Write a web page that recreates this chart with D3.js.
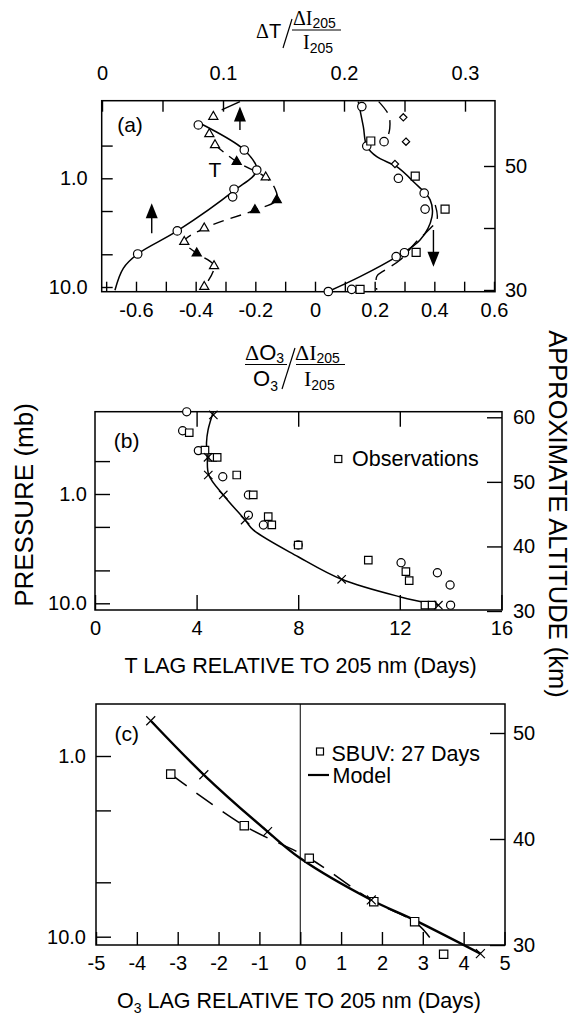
<!DOCTYPE html>
<html>
<head>
<meta charset="utf-8">
<script src="https://cdn.jsdelivr.net/npm/d3@7"></script>
<style>
  body { margin: 0; background: #fff; }
</style>
</head>
<body>
<svg id="fig" width="571" height="1017"></svg>
<script>
// ---- panel (a): sensitivities vs pressure (mb) ----
// temperature response, read on the top axis
const tempCircles = [[0.0796, 0.323], [0.1176, 0.549], [0.1279, 0.839], [0.1091, 1.26], [0.108, 1.48], [0.0622, 3.05], [0.0295, 4.97]];
const tempFit = [[0.078, 0.30], [0.1176, 0.549], [0.1279, 0.839], [0.1091, 1.30], [0.0622, 3.05], [0.0295, 4.97], [0.0176, 6.73], [0.0107, 10.7]];
const tempTriangles = [[0.092, 0.271], [0.0887, 0.391], [0.0934, 0.494], [0.1353, 0.979], [0.0845, 2.88], [0.068, 3.83], [0.0926, 6.41], [0.0845, 9.94]];
const tempTrianglesFilled = [[0.1113, 0.704], [0.1444, 1.58], [0.1264, 1.96], [0.0783, 4.90]];
const tempDashed = [[0.0934, 0.494], [0.1113, 0.704], [0.1353, 0.979], [0.143, 1.25], [0.1444, 1.58], [0.1264, 1.96], [0.0845, 2.88], [0.068, 3.83], [0.0783, 4.90], [0.0926, 6.41], [0.0845, 9.94]];
const tempTopPiece = [[0.0989, 0.235], [0.114, 0.197]];
const tempArrows = [[0.114, 0.36, 0.219], [0.0411, 3.21, 1.70]]; // value, tail p, tip p
// ozone response, read on the bottom axis
const o3Circles = [[0.157, 0.219], [0.1735, 0.505], [0.2315, 0.46], [0.2795, 1.0], [0.366, 1.37], [0.369, 1.92], [0.2997, 4.84], [0.272, 5.26], [0.123, 10.5], [0.0446, 11.0]];
const o3Squares = [[0.187, 0.454], [0.336, 0.953], [0.436, 1.92], [0.339, 4.80], [0.151, 10.5]];
const o3Diamonds = [[0.296, 0.275], [0.305, 0.46], [0.268, 0.738]];
const o3Fit = [[0.145, 0.197], [0.162, 0.335], [0.1735, 0.505], [0.207, 0.633], [0.274, 0.782], [0.330, 1.075], [0.386, 1.58], [0.392, 2.26], [0.352, 3.70], [0.274, 5.26], [0.151, 8.04], [0.0446, 11.0]];
const o3DashTop = [[0.2135, 0.197], [0.247, 0.262], [0.2506, 0.347], [0.2406, 0.444]];
const o3DashLow = [[0.403, 1.76], [0.409, 2.4], [0.375, 3.1], [0.341, 3.8], [0.285, 5.64], [0.235, 6.98], [0.207, 8.0], [0.207, 10.6]];
const o3Arrows = [[0.397, 2.99, 6.52]];
const aTopTicks = [0, 0.05, 0.1, 0.15, 0.2, 0.25, 0.3];
const aBottomTicks = d3.range(-7, 7).map(i => i / 10);
const pressureTicks = [0.5, 1, 2, 5, 10];

// ---- panel (b): T lag (days) vs pressure ----
const bCircles = [[3.61, 0.177], [3.45, 0.264], [4.07, 0.401], [5.03, 0.695], [6.04, 1.02], [6.04, 1.56], [6.63, 1.92], [8.0, 2.93], [12.05, 4.25], [13.48, 5.25], [13.98, 6.80], [14.0, 10.4]];
const bSquares = [[3.71, 0.275], [4.33, 0.396], [4.63, 0.462], [4.81, 0.462], [5.58, 0.670], [6.23, 1.02], [6.82, 1.61], [6.96, 1.92], [8.0, 2.93], [10.76, 4.02], [12.24, 5.14], [12.37, 6.21], [12.99, 10.4], [13.27, 10.4]];
const bModelX = [[4.66, 0.189], [4.45, 0.462], [4.46, 0.670], [5.05, 1.02], [5.91, 1.73], [9.71, 6.03], [13.52, 10.4]];
const bModel = [[4.66, 0.177], [4.45, 0.26], [4.39, 0.34], [4.42, 0.46], [4.48, 0.67], [5.05, 1.02], [5.91, 1.73], [6.23, 2.13], [8.0, 3.75], [9.71, 6.03], [11.99, 8.7], [13.52, 10.4]];
const bDayTicks = [0, 4, 8, 12, 16];

// ---- panel (c): O3 lag (days) vs pressure ----
const cSquares = [[-3.17, 1.26], [-1.37, 2.43], [0.22, 3.68], [1.80, 6.4], [2.80, 8.26], [3.51, 12.5]];
const cModelX = [[-3.66, 0.638], [-2.36, 1.27], [-0.80, 2.62], [1.74, 6.26], [4.41, 12.4]];
const cModel = [[-3.66, 0.638], [-2.36, 1.27], [-0.80, 2.62], [0, 3.68], [1.74, 6.26], [2.80, 8.09], [4.41, 12.4]];
const cDashed = [[-3.17, 1.26], [-1.37, 2.43], [0.22, 3.68], [1.80, 6.4], [2.80, 8.26], [3.17, 10.1]];
const cDayTicks = d3.range(-5, 6);

const sans = '"Liberation Sans", Arial, Helvetica, sans-serif';
const serif = '"Liberation Serif", "Times New Roman", serif';

const svg = d3.select('#fig');
svg.append('rect').attr('width', 571).attr('height', 1017).attr('fill', '#fff');

const xMark = {
  draw(ctx, size)
  {
    const r = Math.sqrt(size) / 2;
    ctx.moveTo(-r, -r); ctx.lineTo(r, r);
    ctx.moveTo(r, -r); ctx.lineTo(-r, r);
  }
};

function frame(x0, x1, y0, y1)
{
  svg.append('rect').attr('x', x0).attr('y', y0).attr('width', x1 - x0).attr('height', y1 - y0)
    .attr('fill', 'none').attr('stroke', '#000').attr('stroke-width', 1.5);
}

function axis(gen, tx, ty)
{
  const a = svg.append('g').attr('transform', `translate(${ tx },${ ty })`).call(gen);
  a.select('.domain').remove();
  a.selectAll('line').attr('stroke', '#000').attr('stroke-width', 1.4);
  a.selectAll('text').attr('font-size', 20).attr('font-family', sans).attr('fill', '#000');
  return a;
}

function marks(data, x, y, type, size, fill)
{
  svg.append('g').selectAll('path').data(data).join('path')
    .attr('transform', d => `translate(${ x(d[0]) },${ y(d[1]) })`)
    .attr('d', d3.symbol(type, size))
    .attr('fill', fill).attr('stroke', '#000').attr('stroke-width', 1.2);
}

function curve(data, x, y, width, dash)
{
  svg.append('path').datum(data)
    .attr('d', d3.line().x(d => x(d[0])).y(d => y(d[1])).curve(d3.curveCatmullRom.alpha(0.5)))
    .attr('fill', 'none').attr('stroke', '#000').attr('stroke-width', width)
    .attr('stroke-dasharray', dash || null);
}

function arrows(data, x, y)
{
  data.forEach(([v, from, to]) =>
  {
    const ax = x(v), y0 = y(from), y1 = y(to);
    const dir = Math.sign(y1 - y0);
    svg.append('line').attr('x1', ax).attr('x2', ax).attr('y1', y0).attr('y2', y1 - dir * 12)
      .attr('stroke', '#000').attr('stroke-width', 1.4);
    svg.append('path').attr('d', `M${ ax },${ y1 }L${ ax - 6 },${ y1 - dir * 15 }L${ ax + 6 },${ y1 - dir * 15 }Z`)
      .attr('fill', '#000');
  });
}

function label(x, y, str, size, anchor)
{
  return svg.append('text').attr('x', x).attr('y', y).attr('font-family', sans)
    .attr('font-size', size || 21).attr('text-anchor', anchor || 'middle').text(str);
}

const dec = d => (d === 1 ? '1.0' : d === 10 ? '10.0' : '');
const fmtSigned = d => (Math.abs(d) < 1e-9 ? '0' : (d < 0 ? '-' : '') + Math.abs(d).toFixed(1));

// ================= panel (a) =================
const aX0 = 101.7, aX1 = 495, aY0 = 100.7, aY1 = 291.7;
const aTop = d3.scaleLinear().domain([0, 0.3]).range([102, 465]);
const aBot = d3.scaleLinear().domain([-0.6, 0.6]).range([136, 494]);
const aY = d3.scaleLog().domain([1, 10]).range([178.3, 287]);
const aAlt = d3.scaleLinear().domain([30, 50]).range([290, 166]);

axis(d3.axisTop(aTop).tickValues(aTopTicks).tickSizeInner(-11).tickSizeOuter(0).tickPadding(21)
  .tickFormat(d => (Math.round(d * 100) % 10 === 0 ? (d === 0 ? '0' : d.toFixed(1)) : '')), 0, aY0);
axis(d3.axisBottom(aBot).tickValues(aBottomTicks).tickSizeInner(-10).tickSizeOuter(0).tickPadding(11)
  .tickFormat(d => (Math.round(d * 10) % 2 === 0 && d > -0.65 ? fmtSigned(d) : '')), 0, aY1);
axis(d3.axisLeft(aY).tickValues(pressureTicks).tickSizeInner(-11).tickSizeOuter(0).tickPadding(14)
  .tickFormat(dec), aX0, 0);
axis(d3.axisRight(aAlt).tickValues([30, 40, 50]).tickSizeInner(-11).tickSizeOuter(0).tickPadding(10)
  .tickFormat(d => (d === 40 ? '' : d)), aX1, 0);
frame(aX0, aX1, aY0, aY1);

curve(tempFit, aTop, aY, 1.5);
curve(tempDashed, aTop, aY, 1.4, '11,7');
curve(tempTopPiece, aTop, aY, 1.4);
marks(tempCircles, aTop, aY, d3.symbolCircle, 56, '#fff');
marks(tempTriangles, aTop, aY, d3.symbolTriangle, 36, '#fff');
marks(tempTrianglesFilled, aTop, aY, d3.symbolTriangle, 36, '#000');
arrows(tempArrows, aTop, aY);

curve(o3Fit, aBot, aY, 1.5);
curve(o3DashTop, aBot, aY, 1.4, '14,8');
curve(o3DashLow, aBot, aY, 1.4, '14,8');
marks(o3Circles, aBot, aY, d3.symbolCircle, 56, '#fff');
marks(o3Squares, aBot, aY, d3.symbolSquare, 64, '#fff');
marks(o3Diamonds, aBot, aY, d3.symbolDiamond2, 34, '#fff');
arrows(o3Arrows, aBot, aY);

label(130, 132, '(a)');
label(215, 177, 'T');

// top title: ΔT / (ΔI205 / I205)
{
  const t1 = svg.append('text').attr('x', 256).attr('y', 38).attr('font-size', 20);
  t1.append('tspan').attr('font-family', serif).text('Δ');
  t1.append('tspan').attr('font-family', sans).text('T');
  svg.append('line').attr('x1', 283).attr('y1', 48).attr('x2', 292).attr('y2', 19).attr('stroke', '#000').attr('stroke-width', 1.2);
  const n = svg.append('text').attr('x', 293).attr('y', 25).attr('font-size', 20);
  n.append('tspan').attr('font-family', serif).text('ΔI');
  n.append('tspan').attr('font-family', sans).attr('font-size', 14).attr('dy', 2.5).text('205');
  svg.append('line').attr('x1', 292).attr('x2', 341).attr('y1', 30).attr('y2', 30).attr('stroke', '#000').attr('stroke-width', 1.2);
  const dd = svg.append('text').attr('x', 303).attr('y', 48.5).attr('font-size', 20);
  dd.append('tspan').attr('font-family', serif).text('I');
  dd.append('tspan').attr('font-family', sans).attr('font-size', 14).attr('dy', 4).text('205');
}
// bottom title: (ΔO3/O3) / (ΔI205/I205)
{
  const n1 = svg.append('text').attr('x', 245).attr('y', 360).attr('font-size', 22);
  n1.append('tspan').attr('font-family', serif).text('Δ');
  n1.append('tspan').attr('font-family', sans).text('O');
  n1.append('tspan').attr('font-family', sans).attr('font-size', 14).attr('dy', 3).text('3');
  svg.append('line').attr('x1', 245).attr('x2', 287).attr('y1', 364.5).attr('y2', 364.5).attr('stroke', '#000').attr('stroke-width', 1.2);
  const d1 = svg.append('text').attr('x', 253).attr('y', 386).attr('font-size', 22);
  d1.append('tspan').attr('font-family', sans).text('O');
  d1.append('tspan').attr('font-family', sans).attr('font-size', 14).attr('dy', 5).text('3');
  svg.append('line').attr('x1', 282).attr('y1', 389).attr('x2', 295).attr('y2', 348).attr('stroke', '#000').attr('stroke-width', 1.2);
  const n2 = svg.append('text').attr('x', 295).attr('y', 360).attr('font-size', 22);
  n2.append('tspan').attr('font-family', serif).text('ΔI');
  n2.append('tspan').attr('font-family', sans).attr('font-size', 14).attr('dy', 2.5).text('205');
  svg.append('line').attr('x1', 296).attr('x2', 345).attr('y1', 364.5).attr('y2', 364.5).attr('stroke', '#000').attr('stroke-width', 1.2);
  const d2 = svg.append('text').attr('x', 304).attr('y', 386).attr('font-size', 22);
  d2.append('tspan').attr('font-family', serif).text('I');
  d2.append('tspan').attr('font-family', sans).attr('font-size', 14).attr('dy', 4).text('205');
}

// ================= panel (b) =================
const bX0 = 95, bX1 = 502, bY0 = 411.7, bY1 = 610;
const bX = d3.scaleLinear().domain([0, 16]).range([95, 501.4]);
const bY = d3.scaleLog().domain([1, 10]).range([494, 603.3]);
const bAlt = d3.scaleLinear().domain([30, 60]).range([611, 417.3]);

axis(d3.axisTop(bX).tickValues([4, 8, 12]).tickSizeInner(-15).tickSizeOuter(0).tickFormat(''), 0, bY0);
axis(d3.axisBottom(bX).tickValues(bDayTicks).tickSizeInner(-15).tickSizeOuter(0).tickPadding(11), 0, bY1);
axis(d3.axisLeft(bY).tickValues(pressureTicks).tickSizeInner(-15).tickSizeOuter(0).tickPadding(8)
  .tickFormat(dec), bX0, 0);
axis(d3.axisRight(bAlt).tickValues([30, 40, 50, 60]).tickSizeInner(-15).tickSizeOuter(0).tickPadding(11), bX1, 0);
frame(bX0, bX1, bY0, bY1);

curve(bModel, bX, bY, 1.5);
marks(bCircles, bX, bY, d3.symbolCircle, 52, '#fff');
marks(bSquares, bX, bY, d3.symbolSquare, 56, '#fff');
marks(bModelX, bX, bY, xMark, 70, 'none');

label(126.7, 448, '(b)');
svg.append('rect').attr('x', 334.8).attr('y', 455.5).attr('width', 7).attr('height', 7)
  .attr('fill', '#fff').attr('stroke', '#000').attr('stroke-width', 1.2);
label(352, 466, 'Observations', 21.5, 'start');
label(300.5, 673, 'T LAG RELATIVE TO 205 nm (Days)', 21.5);

// ================= panel (c) =================
const cX0 = 96, cX1 = 505, cY0 = 704, cY1 = 945;
const cX = d3.scaleLinear().domain([-5, 5]).range([96, 504.5]);
const cY = d3.scaleLog().domain([1, 10]).range([756, 936.7]);
const cAlt = d3.scaleLinear().domain([30, 50]).range([945, 733]);

axis(d3.axisBottom(cX).tickValues(cDayTicks).tickSizeInner(-13).tickSizeOuter(0).tickPadding(11)
  .tickFormat(d => (d < 0 ? '-' + Math.abs(d) : String(d))), 0, cY1);
axis(d3.axisLeft(cY).tickValues([1, 2, 5, 10]).tickSizeInner(-15).tickSizeOuter(0).tickPadding(10)
  .tickFormat(dec), cX0, 0);
axis(d3.axisRight(cAlt).tickValues([30, 40, 50]).tickSizeInner(-15).tickSizeOuter(0).tickPadding(8), cX1, 0);
frame(cX0, cX1, cY0, cY1);
svg.append('line').attr('x1', cX(0)).attr('x2', cX(0)).attr('y1', cY0).attr('y2', cY1)
  .attr('stroke', '#000').attr('stroke-width', 1);

curve(cDashed, cX, cY, 1.5, '20,12');
curve(cModel, cX, cY, 2.4);
marks(cSquares, cX, cY, d3.symbolSquare, 70, '#fff');
marks(cModelX, cX, cY, xMark, 80, 'none');

label(126.7, 741, '(c)');
svg.append('rect').attr('x', 316.5).attr('y', 748).attr('width', 7).attr('height', 7)
  .attr('fill', '#fff').attr('stroke', '#000').attr('stroke-width', 1.2);
label(331.5, 761, 'SBUV: 27 Days', 21.5, 'start');
svg.append('line').attr('x1', 308).attr('x2', 329).attr('y1', 775).attr('y2', 775)
  .attr('stroke', '#000').attr('stroke-width', 2.2);
label(332.5, 783, 'Model', 21.5, 'start');
{
  const t = label(299, 1008, '', 21.5);
  t.append('tspan').text('O');
  t.append('tspan').attr('font-size', 14).attr('dy', 5).text('3');
  t.append('tspan').attr('dy', -5).text(' LAG RELATIVE TO 205 nm (Days)');
}

// ================= shared axis titles =================
svg.append('text').attr('transform', 'translate(32.5,505) rotate(-90)')
  .attr('text-anchor', 'middle').attr('font-family', sans).attr('font-size', 26)
  .text('PRESSURE (mb)');
svg.append('text').attr('transform', 'translate(549,514) rotate(90)')
  .attr('text-anchor', 'middle').attr('font-family', sans).attr('font-size', 25.5)
  .text('APPROXIMATE ALTITUDE (km)');
</script>
</body>
</html>
